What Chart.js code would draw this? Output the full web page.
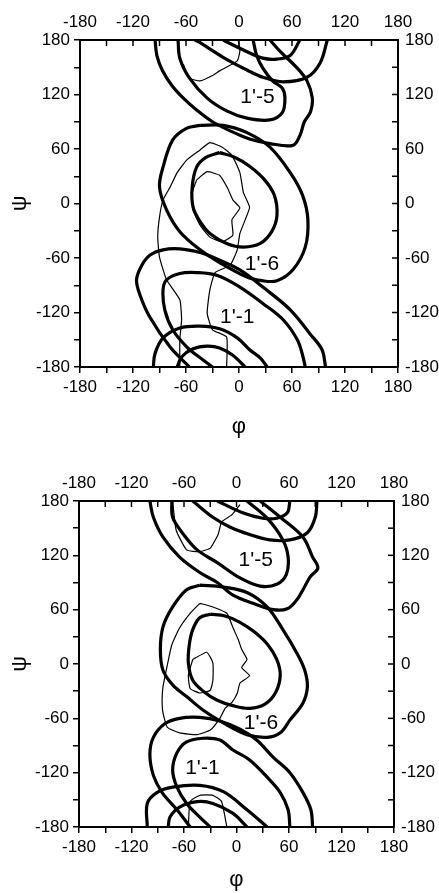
<!DOCTYPE html>
<html><head><meta charset="utf-8">
<script src="https://cdn.jsdelivr.net/npm/chart.js@4"></script>
<style>
html,body{margin:0;padding:0;background:#fff;}
#wrap{position:relative;width:439px;height:893px;overflow:hidden;}
canvas{position:absolute;left:0;}
</style></head><body>
<div id="wrap">
<canvas id="c1" width="439" height="450" style="top:0"></canvas>
<canvas id="c2" width="439" height="443" style="top:450px"></canvas>
</div>
<script>
// ---------- data (phi, psi in degrees) ----------
const tickLabelValues = [-180, -120, -60, 0, 60, 120, 180];
const phiTitle = 'φ';
const psiTitle = 'ψ';
const labelTexts = ["1'-5", "1'-6", "1'-1"];

// upper panel
const top_label_phi = [21, 26, -2];
const top_label_psi = [117, -67, -125];

const top_1p5_outer_a = [[-95,180],[-93,163],[-87,147],[-76,130],[-63,116],[-48,103],[-30,90],[-10,80],[12,71],[35,66],[61,64],[69,75],[74,90],[81,101],[83,116],[77,135],[66,149],[46,168],[35,180]];
const top_1p5_outer_b = [[-97,-180],[-95,-165],[-86,-148],[-67,-137],[-44,-135],[-22,-138],[-2,-148],[12,-161],[24,-170],[32,-180]];
const top_1p5_inner_a = [[-69,180],[-67,160],[-56,138],[-36,116],[-14,102],[9,94],[35,92],[49,100],[52,116],[49,127],[38,135],[27,149],[20,163],[16,180]];
const top_1p5_inner_b = [[-70,-180],[-65,-169],[-52,-160],[-36,-157],[-22,-159],[-7,-167],[7,-180]];
const top_1p6_outer = [[-44,86],[-59,83],[-75,70],[-86,40],[-90,18],[-82,-7],[-67,-31],[-44,-51],[-22,-65],[9,-81],[26,-85],[43,-85],[61,-73],[75,-48],[78,-18],[72,9],[58,34],[35,62],[9,78],[-18,86],[-44,86]];
const top_1p6_inner = [[-22,56],[-37,51],[-48,40],[-53,18],[-52,-4],[-44,-20],[-33,-33],[-14,-44],[5,-48],[24,-44],[37,-31],[43,-13],[40,9],[29,26],[12,41],[-5,51],[-22,56]];
const top_1p1_outer_a = [[-56,-180],[-78,-158],[-101,-125],[-112,-101],[-116,-84],[-110,-68],[-101,-57],[-86,-51],[-67,-50],[-44,-54],[-30,-59],[1,-73],[27,-92],[58,-117],[80,-143],[94,-161],[98,-180]];
const top_1p1_outer_b = [[100,180],[92,155],[77,139],[50,134],[27,139],[9,147],[-18,161],[-44,177],[-50,180]];
const top_1p1_inner_a = [[-30,-180],[-41,-172],[-59,-158],[-75,-139],[-84,-117],[-86,-95],[-82,-84],[-67,-77],[-48,-76],[-25,-79],[1,-92],[27,-110],[50,-128],[66,-150],[72,-167],[75,-180]];
const top_1p1_inner_b = [[69,180],[58,163],[43,159],[27,160],[5,169],[-18,180]];
const top_thin_a = [[-67,-180],[-67,-150],[-65,-128],[-67,-106],[-82,-84],[-90,-59],[-92,-37],[-90,-15],[-86,4],[-78,18],[-70,34],[-59,48],[-44,59],[-33,67],[-19,62],[-8,53],[1,34],[5,12],[12,-4],[7,-18],[1,-33],[-2,-51],[-10,-68],[-27,-76],[-33,-95],[-36,-121],[-30,-139],[-14,-147],[-14,-180]];
const top_thin_b = [[-48,26],[-36,35],[-22,31],[-13,17],[-7,4],[1,-5],[-8,-18],[-7,-35],[-19,-42],[-33,-37],[-44,-24],[-52,-7],[-53,12],[-48,26]];
const top_thin_c = [[-63,153],[-56,138],[-44,135],[-30,141],[-22,146],[-2,157],[1,168],[-1,180]];

// lower panel
const bot_label_phi = [22, 28, -39];
const bot_label_psi = [115, -65, -115];

const bot_1p5_outer_a = [[-99,180],[-95,162],[-84,140],[-65,118],[-42,101],[-22,90],[-4,76],[19,67],[42,60],[58,61],[69,71],[76,82],[84,96],[93,106],[87,118],[76,140],[50,162],[27,180]];
const bot_1p5_outer_b = [[-102,-180],[-102,-154],[-91,-142],[-73,-136],[-42,-134],[-15,-141],[12,-161],[35,-180]];
const bot_1p5_inner_a = [[-74,180],[-73,162],[-62,145],[-45,126],[-22,112],[4,95],[27,86],[46,88],[57,99],[59,118],[53,137],[35,161],[12,180]];
const bot_1p5_inner_b = [[-78,-180],[-76,-169],[-65,-158],[-45,-152],[-27,-154],[-4,-165],[12,-180]];
const bot_1p6_outer = [[-42,87],[-57,82],[-73,63],[-84,41],[-87,16],[-84,-7],[-73,-23],[-57,-36],[-38,-51],[-15,-65],[12,-78],[35,-81],[50,-76],[61,-62],[76,-43],[81,-25],[78,-7],[69,12],[53,38],[35,63],[12,79],[-15,85],[-42,87]];
const bot_1p6_inner = [[-30,55],[-42,51],[-50,38],[-54,21],[-55,1],[-50,-18],[-38,-30],[-22,-40],[-4,-46],[15,-49],[33,-44],[45,-31],[50,-12],[46,5],[36,21],[21,35],[4,46],[-13,53],[-30,55]];
const bot_1p1_outer_a = [[-53,-180],[-68,-161],[-85,-142],[-95,-123],[-99,-100],[-95,-81],[-82,-66],[-65,-60],[-42,-59],[-19,-63],[4,-72],[23,-84],[42,-103],[61,-120],[76,-142],[85,-161],[87,-180]];
const bot_1p1_outer_b = [[92,180],[90,162],[81,145],[61,137],[38,137],[15,143],[-7,151],[-27,162],[-50,180]];
const bot_1p1_inner_a = [[-30,-180],[-42,-169],[-57,-154],[-68,-136],[-73,-117],[-68,-98],[-57,-86],[-38,-82],[-19,-84],[-4,-95],[15,-106],[35,-125],[50,-142],[59,-161],[61,-180]];
const bot_1p1_inner_b = [[61,180],[58,167],[46,161],[30,161],[7,167],[-22,180]];
const bot_thin_a = [[-42,67],[-53,56],[-65,40],[-74,21],[-79,-1],[-84,-25],[-85,-40],[-84,-54],[-79,-70],[-65,-76],[-45,-78],[-30,-73],[-19,-60],[-13,-49],[-5,-42],[1,-32],[4,-21],[15,-13],[6,-4],[12,5],[6,16],[2,27],[-4,40],[-11,56],[-27,63],[-42,67]];
const bot_thin_b = [[-50,5],[-34,13],[-27,1],[-27,-18],[-30,-29],[-42,-32],[-53,-27],[-55,-12],[-50,5]];
const bot_thin_c = [[-73,180],[-69,148],[-57,126],[-42,124],[-30,128],[-21,143],[-17,157],[-5,165],[4,176]];
const bot_thin_d = [[-55,-180],[-53,-152],[-42,-145],[-27,-145],[-17,-152],[-11,-180]];

// ---------- rendering ----------
const FONT = '"Liberation Sans", Arial, Helvetica, sans-serif';

function toPts(arr){ return arr.map(p => ({x:p[0], y:p[1]})); }
function thick(arr){ return {data:toPts(arr), showLine:true, borderColor:'#000', borderWidth:3.2, pointRadius:0, tension:0.35, fill:false}; }
function thin(arr){ return {data:toPts(arr), showLine:true, borderColor:'#000', borderWidth:1.2, pointRadius:0, tension:0.15, fill:false}; }

function tickCb(v){ return tickLabelValues.includes(v) ? String(v) : ''; }

const labelPlugin = {
  id:'lbl',
  afterDatasetsDraw(chart, args, opts){
    const {ctx, scales:{x, y}} = chart;
    ctx.save();
    ctx.fillStyle = '#000';
    ctx.font = '21px ' + FONT;
    ctx.textAlign = 'center'; ctx.textBaseline = 'middle';
    opts.texts.forEach((t,i) => ctx.fillText(t, x.getPixelForValue(opts.phi[i]), y.getPixelForValue(opts.psi[i])));
    ctx.restore();
  }
};
const innerTicks = {
  id:'inner',
  afterDraw(chart){
    const {ctx, chartArea:a, scales:{x2, y2}} = chart;
    ctx.save(); ctx.strokeStyle = '#000'; ctx.lineWidth = 1.5;
    x2.ticks.forEach(t => { const px = x2.getPixelForValue(t.value); ctx.beginPath(); ctx.moveTo(px, a.top); ctx.lineTo(px, a.top + 6); ctx.stroke(); });
    y2.ticks.forEach(t => { const py = y2.getPixelForValue(t.value); ctx.beginPath(); ctx.moveTo(a.right, py); ctx.lineTo(a.right - 6, py); ctx.stroke(); });
    ctx.restore();
  }
};

function axis(pos, fitSize, extra){
  const horizontal = (pos === 'top' || pos === 'bottom');
  const outer = (pos === 'bottom' || pos === 'left');
  const s = {
    type:'linear', position:pos, min:-180, max:180,
    ticks:{stepSize:30, autoSkip:false, maxRotation:0, callback:tickCb, color:'#000',
           font:{size:17, family:FONT}, padding: outer ? 4 : 7},
    grid:{drawOnChartArea:false, drawTicks:outer, tickLength:6, color:'#000', lineWidth:1.5},
    border:{display:true, color:'#000', width:2},
    afterFit: (sc) => { if (horizontal) sc.height = fitSize; else sc.width = fitSize; }
  };
  return Object.assign(s, extra || {});
}

function makeChart(id, datasets, fit, labels){
  return new Chart(document.getElementById(id), {
    type:'scatter',
    data:{datasets},
    options:{
      responsive:false, animation:false, events:[],
      layout:{padding:0},
      plugins:{legend:{display:false}, tooltip:{enabled:false},
               lbl:{texts:labelTexts, phi:labels.phi, psi:labels.psi}},
      scales:{
        x: axis('bottom', fit.bottom, {title:{display:true, text:phiTitle, color:'#000', font:{size:22, family:FONT}, padding:{top:0, bottom:fit.phiPad}}}),
        x2: axis('top', fit.top),
        y: axis('left', fit.left, {title:{display:true, text:psiTitle, color:'#000', font:{size:22, family:FONT}, padding:{top:7, bottom:0}}}),
        y2: axis('right', fit.right)
      }
    },
    plugins:[labelPlugin, innerTicks]
  });
}

makeChart('c1', [
  thick(top_1p5_outer_a), thick(top_1p5_outer_b), thick(top_1p5_inner_a), thick(top_1p5_inner_b),
  thick(top_1p6_outer), thick(top_1p6_inner),
  thick(top_1p1_outer_a), thick(top_1p1_outer_b), thick(top_1p1_inner_a), thick(top_1p1_inner_b),
  thin(top_thin_a), thin(top_thin_b), thin(top_thin_c)
], {left:80, right:41, top:40, bottom:83, phiPad:10}, {phi:top_label_phi, psi:top_label_psi});

makeChart('c2', [
  thick(bot_1p5_outer_a), thick(bot_1p5_outer_b), thick(bot_1p5_inner_a), thick(bot_1p5_inner_b),
  thick(bot_1p6_outer), thick(bot_1p6_inner),
  thick(bot_1p1_outer_a), thick(bot_1p1_outer_b), thick(bot_1p1_inner_a), thick(bot_1p1_inner_b),
  thin(bot_thin_a), thin(bot_thin_b), thin(bot_thin_c), thin(bot_thin_d)
], {left:79, right:45, top:51, bottom:66, phiPad:0}, {phi:bot_label_phi, psi:bot_label_psi});
</script>
</body></html>
